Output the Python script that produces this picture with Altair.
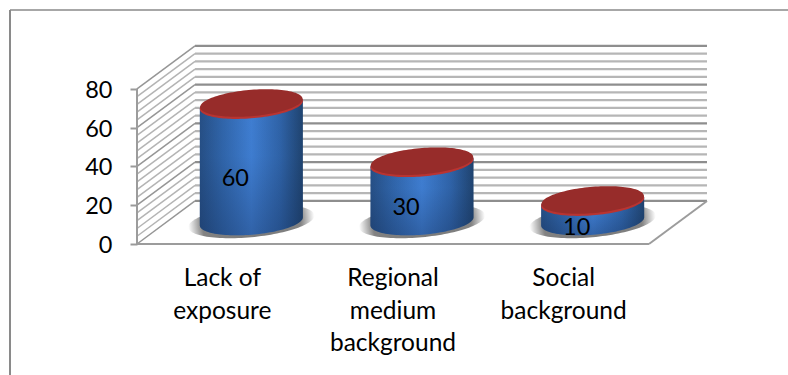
import altair as alt
import numpy as np
import pandas as pd

categories = ["Lack of\nexposure", "Regional\nmedium\nbackground", "Social\nbackground"]
values = [60, 30, 10]
axis_ticks = [0, 20, 40, 60, 80]

FONT = "Lato"
DEPTH_X = 0.34      # receding wall offset, category units
DEPTH_Y = 22.2      # receding wall offset, value units
RADIUS_X = 0.302
RADIUS_Y = 6.9
TILT = 2.1
SINK = 0.6          # cylinders sit slightly behind mid-depth

xscale = alt.Scale(domain=[0, 3 + DEPTH_X], nice=False, zero=False)
yscale = alt.Scale(domain=[0, 102.6], nice=False, zero=False)
X = alt.X("x:Q", scale=xscale, axis=None)
Y = alt.Y("y:Q", scale=yscale, title=None,
          axis=alt.Axis(values=axis_ticks, grid=False, domain=False, tickSize=7, tickWidth=2,
                        tickColor="#9a9a9a", labelFont=FONT, labelFontSize=23.5, labelColor="#000000",
                        labelPadding=18, labelOffset=1.5))
Xe = alt.X2("x2:Q")
Ye = alt.Y2("y2:Q")


def ellipse(cx, cy, rx=RADIUS_X, ry=RADIUS_Y, tilt=TILT, n=61):
    t = np.linspace(0, np.pi, n)
    xs = cx + rx * np.cos(t)
    mid = cy + tilt * np.cos(t)
    return xs, mid - ry * np.sin(t), mid + ry * np.sin(t)


def rows(fn):
    return pd.concat([fn(i, v) for i, v in enumerate(values)], ignore_index=True)


def centre(i):
    return i + 0.5 + DEPTH_X / 2


def base_y():
    return DEPTH_Y / 2 + SINK


def shadow_rows(i, v):
    xs, lo, hi = ellipse(centre(i), base_y(), rx=0.37, ry=8.2, tilt=3.0)
    return pd.DataFrame({"cat": i, "x": xs, "y": lo, "y2": hi})


def body_rows(i, v):
    xs, lo, _ = ellipse(centre(i), base_y())
    _, _, top = ellipse(centre(i), base_y() + v)
    return pd.DataFrame({"cat": i, "x": xs, "y": lo, "y2": top})


def rim_rows(i, v):
    xs, lo, hi = ellipse(centre(i), base_y() + v)
    return pd.DataFrame({"cat": i, "x": xs, "y": lo, "y2": hi})


def cap_rows(i, v):
    xs, lo, hi = ellipse(centre(i), base_y() + v + 1.0, ry=RADIUS_Y - 0.1, rx=RADIUS_X - 0.002)
    return pd.DataFrame({"cat": i, "x": xs, "y": lo, "y2": hi})


# Wall grid, one row per grid line
side, back = [], []
for v in range(0, 81, 4):
    major = v % 20 == 0
    side.append({"x": 0, "x2": DEPTH_X, "y": v, "y2": v + DEPTH_Y, "major": major})
    back.append({"x": DEPTH_X, "x2": 3 + DEPTH_X, "y": v + DEPTH_Y, "y2": v + DEPTH_Y, "major": major})
side = pd.DataFrame(side)
back = pd.DataFrame(back)

grid_minor = alt.Chart(back[~back.major]).mark_rule(color="#b6b6b6", strokeWidth=2.2).encode(x=X, x2=Xe, y=Y, y2=Ye)
grid_major = alt.Chart(back[back.major]).mark_rule(color="#8e8e8e", strokeWidth=2.2).encode(x=X, x2=Xe, y=Y, y2=Ye)
side_minor = alt.Chart(side[~side.major]).mark_rule(color="#b4b4b4", strokeWidth=1.5).encode(x=X, x2=Xe, y=Y, y2=Ye)
side_major = alt.Chart(side[side.major]).mark_rule(color="#969696", strokeWidth=1.5).encode(x=X, x2=Xe, y=Y, y2=Ye)

edges = pd.DataFrame([
    {"x": 0, "x2": 3, "y": 0, "y2": 0},
    {"x": 3, "x2": 3 + DEPTH_X, "y": 0, "y2": DEPTH_Y},
    {"x": 0, "x2": 0, "y": 0, "y2": 80},
])
floor = alt.Chart(edges).mark_rule(color="#9c9c9c", strokeWidth=2).encode(x=X, x2=Xe, y=Y, y2=Ye)

shadow = alt.Chart(rows(shadow_rows)).mark_area(
    orient="vertical",
    color=alt.RadialGradient(gradient="radial", x1=0.5, y1=0.5, r1=0, x2=0.5, y2=0.5, r2=0.5,
                             stops=[alt.GradientStop(offset=0, color="#787878"),
                                    alt.GradientStop(offset=0.78, color="#828282"),
                                    alt.GradientStop(offset=1, color="#ffffff")]),
).encode(x=X, y=Y, y2=Ye, detail="cat:N")

body = alt.Chart(rows(body_rows)).mark_area(
    orient="vertical",
    color=alt.LinearGradient(gradient="linear", x1=0, y1=0, x2=1, y2=0,
                             stops=[alt.GradientStop(offset=0, color="#264f85"),
                                    alt.GradientStop(offset=0.22, color="#3065aa"),
                                    alt.GradientStop(offset=0.5, color="#3f7ed2"),
                                    alt.GradientStop(offset=0.78, color="#2f63a8"),
                                    alt.GradientStop(offset=1, color="#1f436f")]),
).encode(x=X, y=Y, y2=Ye, detail="cat:N")

body_shade = alt.Chart(rows(body_rows)).mark_area(
    orient="vertical",
    color=alt.LinearGradient(gradient="linear", x1=0, y1=0, x2=0, y2=1,
                             stops=[alt.GradientStop(offset=0, color="rgba(18,40,80,0)"),
                                    alt.GradientStop(offset=0.45, color="rgba(18,40,80,0.02)"),
                                    alt.GradientStop(offset=1, color="rgba(18,40,80,0.32)")]),
).encode(x=X, y=Y, y2=Ye, detail="cat:N")

rim = alt.Chart(rows(rim_rows)).mark_area(orient="vertical", color="#b93431").encode(x=X, y=Y, y2=Ye, detail="cat:N")
cap = alt.Chart(rows(cap_rows)).mark_area(orient="vertical", color="#972c2a").encode(x=X, y=Y, y2=Ye, detail="cat:N")

bar_labels = pd.DataFrame({
    "x": [centre(i) for i in range(3)],
    "y": [base_y() + v / 2 for v in values],
    "label": [str(v) for v in values],
})
value_text = alt.Chart(bar_labels).mark_text(
    font=FONT, fontSize=23.5, color="#000000", dx=-16, dy=16
).encode(x=X, y=Y, text="label:N")

cat_labels = pd.DataFrame({"x": [i + 0.5 for i in range(3)], "label": categories})
cat_text = alt.Chart(cat_labels).mark_text(
    font=FONT, fontSize=24.5, color="#000000", baseline="top", lineBreak="\n", lineHeight=32.7
).encode(x=X, y=alt.value(222), text="label:N")

# Outer frame of the figure, top and left edges only
frame_top = alt.Chart(pd.DataFrame({"k": [0]})).mark_rule(color="#8a8a8a", strokeWidth=1.5).encode(
    x=alt.value(-127), x2=alt.value(651), y=alt.value(-35))
frame_left = alt.Chart(pd.DataFrame({"k": [0]})).mark_rule(color="#8a8a8a", strokeWidth=2).encode(
    x=alt.value(-127), y=alt.value(-35), y2=alt.value(330))

chart = alt.layer(
    frame_top, frame_left,
    grid_minor, grid_major, side_minor, side_major, floor,
    shadow, body, body_shade, rim, cap,
    value_text, cat_text,
).properties(
    width=570, height=199,
    padding={"left": 137, "top": 45, "right": 81, "bottom": 131},
    autosize=alt.AutoSizeParams(type="none"),
    background="#ffffff",
).configure_view(stroke=None)

chart.save("out.html", embed_options={"renderer": "svg", "actions": False})
